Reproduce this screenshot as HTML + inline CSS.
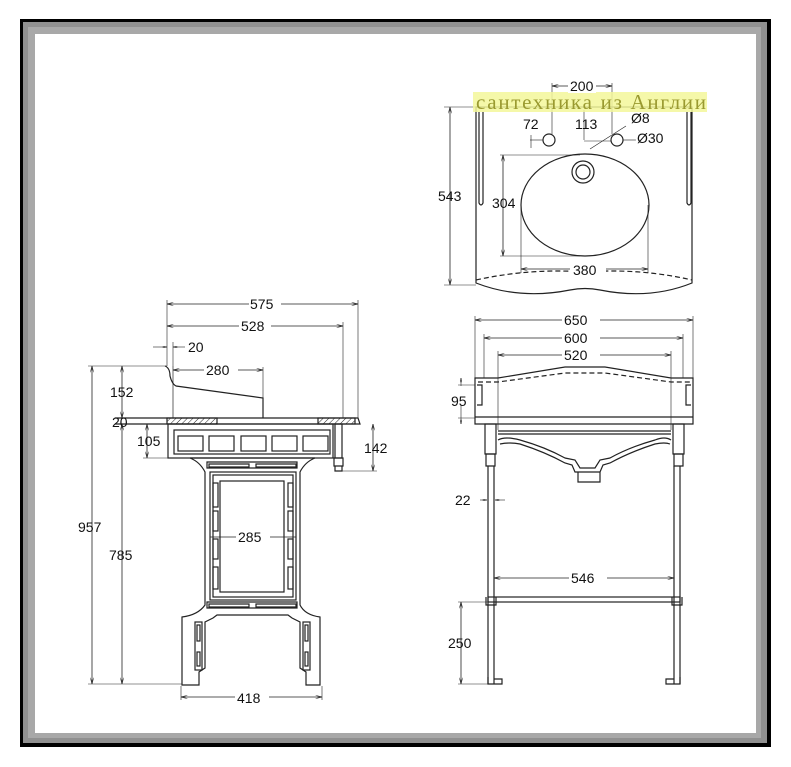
<!DOCTYPE html>
<html><head><meta charset="utf-8"><style>
html,body{margin:0;padding:0;background:#fff;}
svg{display:block;}
text{font-family:"Liberation Sans",sans-serif;font-size:14px;fill:#111;}
</style></head><body>
<svg width="791" height="767" viewBox="0 0 791 767" xmlns="http://www.w3.org/2000/svg">
<defs>
<marker id="a" viewBox="0 0 8 4" refX="8" refY="2" markerWidth="8" markerHeight="4" orient="auto-start-reverse"><path d="M0,0 L8,2 L0,4" fill="none" stroke="#222" stroke-width="0.8"/></marker>
<pattern id="h" width="4" height="4" patternUnits="userSpaceOnUse" patternTransform="rotate(45)"><line x1="0" y1="0" x2="0" y2="4" stroke="#222" stroke-width="1"/></pattern>
</defs>
<rect x="0" y="0" width="791" height="767" fill="#fff"/>
<rect x="20" y="19" width="751" height="728" fill="#000"/>
<rect x="23" y="22" width="744" height="721" fill="#909090"/>
<rect x="28" y="27" width="733" height="711" fill="#a8a8a8"/>
<rect x="35" y="34" width="721" height="699" fill="#fff"/>

<g fill="none" stroke="#222" stroke-width="1.2">
<!-- ===== TOP VIEW ===== -->
<path d="M476,107 L692,107 L692,283 Q650,300 600,290 Q585,287 570,290 Q520,300 476,283 Z"/>
<path d="M476,280 Q530,268 585,272 Q640,268 692,280" stroke-dasharray="5,3"/>
<path d="M479,112 V203 Q481,207 483,203 V112"/>
<path d="M687,112 V203 Q689,207 691,203 V112"/>
<circle cx="549" cy="140" r="6"/>
<circle cx="617" cy="140" r="6"/>
<ellipse cx="585" cy="205" rx="64" ry="51"/>
<circle cx="583" cy="172" r="11"/>
<circle cx="583" cy="172" r="7"/>
<line x1="450" y1="107" x2="450" y2="285" marker-start="url(#a)" marker-end="url(#a)" stroke-width="0.8"/>
<line x1="444" y1="107" x2="476" y2="107" stroke-width="0.6"/>
<line x1="444" y1="285" x2="476" y2="285" stroke-width="0.6"/>
<line x1="503" y1="155" x2="503" y2="256" marker-start="url(#a)" marker-end="url(#a)" stroke-width="0.8"/>
<line x1="500" y1="155" x2="580" y2="155" stroke-width="0.6"/>
<line x1="500" y1="256" x2="580" y2="256" stroke-width="0.6"/>
<line x1="521" y1="205" x2="521" y2="273" stroke-width="0.6"/>
<line x1="648" y1="205" x2="648" y2="273" stroke-width="0.6"/>
<line x1="521" y1="269" x2="648" y2="269" marker-start="url(#a)" marker-end="url(#a)" stroke-width="0.8"/>
<line x1="552" y1="86" x2="612" y2="86" marker-start="url(#a)" marker-end="url(#a)" stroke-width="0.8"/>
<line x1="552" y1="83" x2="552" y2="134" stroke-width="0.6"/>
<line x1="612" y1="83" x2="612" y2="134" stroke-width="0.6"/>
<line x1="530" y1="140" x2="543" y2="140" stroke-width="0.6"/>
<line x1="531" y1="135" x2="531" y2="148" stroke-width="0.6"/>
<line x1="584" y1="110" x2="584" y2="140" stroke-width="0.6"/>
<line x1="584" y1="141" x2="611" y2="141" stroke-width="0.6"/>
<line x1="590" y1="149" x2="626" y2="126" stroke-width="0.6"/>
<line x1="623" y1="140" x2="636" y2="140" stroke-width="0.6"/>

<!-- ===== FRONT VIEW ===== -->
<line x1="475" y1="320" x2="693" y2="320" marker-start="url(#a)" marker-end="url(#a)" stroke-width="0.8"/>
<line x1="484" y1="338" x2="683" y2="338" marker-start="url(#a)" marker-end="url(#a)" stroke-width="0.8"/>
<line x1="498" y1="355" x2="671" y2="355" marker-start="url(#a)" marker-end="url(#a)" stroke-width="0.8"/>
<line x1="475" y1="316" x2="475" y2="378" stroke-width="0.6"/>
<line x1="693" y1="316" x2="693" y2="378" stroke-width="0.6"/>
<line x1="484" y1="334" x2="484" y2="378" stroke-width="0.6"/>
<line x1="683" y1="334" x2="683" y2="378" stroke-width="0.6"/>
<line x1="498" y1="351" x2="498" y2="430" stroke-width="0.6"/>
<line x1="671" y1="351" x2="671" y2="430" stroke-width="0.6"/>
<path d="M475,378 L498,378 L565,367 L605,367 L671,378 L693,378 L693,424 L475,424 Z"/>
<path d="M478,382 L498,382 L565,373 L605,373 L671,382 L690,382" stroke-dasharray="5,3"/>
<line x1="475" y1="417" x2="693" y2="417"/>
<path d="M477,385 h5 v20 h-5 M691,385 h-5 v20 h5"/>
<line x1="498" y1="431" x2="671" y2="431"/>
<line x1="498" y1="434" x2="671" y2="434"/>
<path d="M498,440 Q505,436 520,440 Q545,447 565,458 L575,460 L580,468 L595,468 L600,460 L610,458 Q630,447 655,440 Q665,436 671,440"/>
<path d="M500,444 Q510,442 520,444 Q545,452 565,463 L572,465 L575,472 L600,472 L603,465 L610,463 Q630,452 655,444 Q665,442 670,444"/>
<path d="M578,472 v10 h22 v-10"/>
<rect x="485" y="424" width="11" height="30"/>
<rect x="673" y="424" width="11" height="30"/>
<path d="M486,454 h9 v12 h-9 z M674,454 h9 v12 h-9 z"/>
<path d="M488,466 v218 M494,466 v218 M674,466 v218 M680,466 v218"/>
<rect x="488" y="597" width="192" height="5"/>
<path d="M486,597 v8 h10 v-8 M672,597 v8 h10 v-8"/>
<path d="M488,677 v7 h14 v-5 h-8 M680,677 v7 h-14 v-5 h8"/>
<line x1="494" y1="578" x2="674" y2="578" marker-start="url(#a)" marker-end="url(#a)" stroke-width="0.8"/>
<line x1="461" y1="424" x2="461" y2="405" stroke-width="0.6" marker-start="url(#a)"/>
<line x1="461" y1="378" x2="461" y2="386" stroke-width="0.6" marker-start="url(#a)"/>
<line x1="458" y1="385" x2="475" y2="385" stroke-width="0.6"/>
<line x1="458" y1="418" x2="475" y2="418" stroke-width="0.6"/>
<line x1="480" y1="500" x2="487" y2="500" stroke-width="0.6" marker-end="url(#a)"/>
<line x1="505" y1="500" x2="495" y2="500" stroke-width="0.6" marker-end="url(#a)"/>
<line x1="461" y1="602" x2="461" y2="684" marker-start="url(#a)" marker-end="url(#a)" stroke-width="0.8"/>
<line x1="458" y1="602" x2="488" y2="602" stroke-width="0.6"/>
<line x1="458" y1="684" x2="488" y2="684" stroke-width="0.6"/>

<!-- ===== SIDE VIEW ===== -->
<line x1="167" y1="304" x2="358" y2="304" marker-start="url(#a)" marker-end="url(#a)" stroke-width="0.8"/>
<line x1="167" y1="326" x2="343" y2="326" marker-start="url(#a)" marker-end="url(#a)" stroke-width="0.8"/>
<line x1="167" y1="300" x2="167" y2="366" stroke-width="0.6"/>
<line x1="358" y1="300" x2="358" y2="418" stroke-width="0.6"/>
<line x1="343" y1="322" x2="343" y2="418" stroke-width="0.6"/>
<line x1="153" y1="347" x2="167" y2="347" stroke-width="0.6" marker-end="url(#a)"/>
<line x1="185" y1="347" x2="173" y2="347" stroke-width="0.6" marker-end="url(#a)"/>
<line x1="173" y1="342" x2="173" y2="366" stroke-width="0.6"/>
<line x1="173" y1="370" x2="263" y2="370" marker-start="url(#a)" marker-end="url(#a)" stroke-width="0.8"/>
<path d="M165,366 Q170,368 170,376 Q172,384 176,386 L263,398 L263,418"/>
<line x1="173" y1="366" x2="173" y2="418" stroke-width="0.7"/>
<line x1="263" y1="367" x2="263" y2="398" stroke-width="0.6"/>
<rect x="167" y="418" width="50" height="6" fill="url(#h)"/>
<rect x="318" y="418" width="37" height="6" fill="url(#h)"/>
<path d="M115,418 H358 L360,424 H115"/>
<rect x="168" y="424" width="165" height="34"/>
<rect x="174" y="430" width="156" height="24"/>
<rect x="178" y="436" width="25" height="15"/>
<rect x="209" y="436" width="25" height="15"/>
<rect x="241" y="436" width="25" height="15"/>
<rect x="272" y="436" width="25" height="15"/>
<rect x="303" y="436" width="25" height="15"/>
<rect x="335" y="424" width="7" height="34"/>
<path d="M334,458 h9 v8 h-9 z M335,466 h7 v5 h-7 z"/>
<path d="M190,458 L315,458 Q305,462 300,472 L300,605 Q305,615 320,617 L320,685 L306,685 L306,672 L300,668 L300,622 L292,618 L288,615 L217,615 L213,618 L205,622 L205,668 L199,672 L199,685 L182,685 L182,617 Q198,615 205,605 L205,472 Q200,462 190,458 Z"/>
<path d="M207,462 h90 v6 h-90 z M209,464 h40 v3 h-40 z M256,464 h40 v3 h-40z"/>
<rect x="210" y="472" width="86" height="128"/>
<rect x="213" y="475" width="80" height="122"/>
<rect x="220" y="481" width="64" height="111"/>
<rect x="213" y="483" width="5" height="24"/><rect x="213" y="511" width="5" height="20"/><rect x="213" y="539" width="5" height="20"/><rect x="213" y="567" width="5" height="22"/>
<rect x="288" y="483" width="5" height="24"/><rect x="288" y="511" width="5" height="20"/><rect x="288" y="539" width="5" height="20"/><rect x="288" y="567" width="5" height="22"/>
<path d="M207,602 h90 v6 h-90 z M209,604 h40 v3 h-40 z M256,604 h40 v3 h-40z"/>
<rect x="195" y="622" width="7" height="48"/><rect x="197" y="625" width="3" height="16"/><rect x="197" y="652" width="3" height="14"/>
<rect x="303" y="622" width="7" height="48"/><rect x="305" y="625" width="3" height="16"/><rect x="305" y="652" width="3" height="14"/>
<line x1="210" y1="537" x2="296" y2="537" stroke-width="0.8"/>
<line x1="181" y1="697" x2="322" y2="697" marker-start="url(#a)" marker-end="url(#a)" stroke-width="0.8"/>
<line x1="181" y1="686" x2="181" y2="700" stroke-width="0.6"/>
<line x1="322" y1="686" x2="322" y2="700" stroke-width="0.6"/>
<line x1="92" y1="366" x2="92" y2="684" marker-start="url(#a)" marker-end="url(#a)" stroke-width="0.8"/>
<line x1="122" y1="366" x2="122" y2="418" marker-start="url(#a)" marker-end="url(#a)" stroke-width="0.8"/>
<line x1="122" y1="424" x2="122" y2="684" marker-start="url(#a)" marker-end="url(#a)" stroke-width="0.8"/>
<line x1="88" y1="366" x2="167" y2="366" stroke-width="0.6"/>
<line x1="88" y1="684" x2="182" y2="684" stroke-width="0.6"/>
<line x1="147" y1="424" x2="147" y2="458" marker-start="url(#a)" marker-end="url(#a)" stroke-width="0.8"/>
<line x1="143" y1="458" x2="168" y2="458" stroke-width="0.6"/>
<line x1="373" y1="424" x2="373" y2="471" marker-start="url(#a)" marker-end="url(#a)" stroke-width="0.8"/>
<line x1="338" y1="471" x2="377" y2="471" stroke-width="0.6"/>
</g>

<g>
<rect x="473" y="92" width="234" height="20" fill="#f3f79a" opacity="0.85"/>
<text x="476" y="109" textLength="230" lengthAdjust="spacing" style="font-family:'Liberation Serif',serif;font-size:21px;fill:#9a9a30;">сантехника из Англии</text>
<rect x="568" y="79" width="28" height="14" fill="#fff"/>
<text x="570" y="91">200</text>
<text x="523" y="129">72</text>
<text x="575" y="129">113</text>
<text x="631" y="123">Ø8</text>
<text x="637" y="143">Ø30</text>
<text x="438" y="201">543</text>
<text x="492" y="208">304</text>
<rect x="570" y="262" width="36" height="14" fill="#fff"/>
<text x="573" y="275">380</text>

<rect x="562" y="312" width="38" height="14" fill="#fff"/>
<text x="564" y="325">650</text>
<rect x="562" y="330" width="38" height="14" fill="#fff"/>
<text x="564" y="343">600</text>
<rect x="562" y="347" width="38" height="14" fill="#fff"/>
<text x="564" y="360">520</text>
<text x="451" y="406">95</text>
<text x="455" y="505">22</text>
<rect x="569" y="570" width="38" height="14" fill="#fff"/>
<text x="571" y="583">546</text>
<text x="448" y="648">250</text>

<rect x="249" y="296" width="32" height="14" fill="#fff"/>
<text x="250" y="309">575</text>
<rect x="239" y="318" width="32" height="14" fill="#fff"/>
<text x="241" y="331">528</text>
<text x="188" y="352">20</text>
<rect x="204" y="362" width="34" height="14" fill="#fff"/>
<text x="206" y="375">280</text>
<text x="110" y="397">152</text>
<text x="112" y="427">20</text>
<text x="137" y="446">105</text>
<text x="364" y="453">142</text>
<text x="78" y="532">957</text>
<text x="109" y="560">785</text>
<rect x="236" y="530" width="34" height="14" fill="#fff"/>
<text x="238" y="542">285</text>
<rect x="235" y="690" width="34" height="14" fill="#fff"/>
<text x="237" y="703">418</text>
</g>
</svg>
</body></html>
